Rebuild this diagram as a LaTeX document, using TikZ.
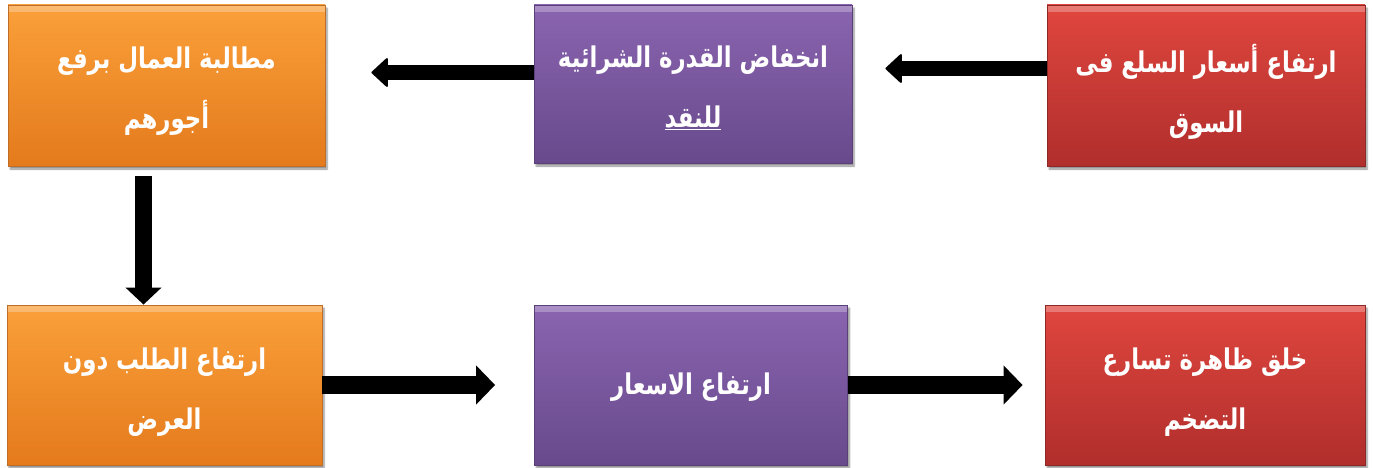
\documentclass[tikz,border=0pt]{standalone}
\usepackage{fontspec}
\newfontfamily\arabicfont[Script=Arabic,FakeStretch=0.8]{DejaVu Sans}
\TeXXeTstate=1
\usetikzlibrary{arrows.meta,shadows.blur}
\definecolor{redtop}{RGB}{224,70,62}
\definecolor{redbot}{RGB}{176,46,44}
\definecolor{redline}{RGB}{140,40,38}
\definecolor{ortop}{RGB}{250,160,58}
\definecolor{orbot}{RGB}{228,122,28}
\definecolor{orline}{RGB}{190,110,40}
\definecolor{putop}{RGB}{138,100,176}
\definecolor{pubot}{RGB}{104,74,140}
\definecolor{puline}{RGB}{90,64,120}
\tikzset{
  box/.style={rectangle, minimum width=#1, inner sep=0pt, line width=0.8pt,
    blur shadow={shadow xshift=2pt, shadow yshift=-3pt, shadow blur steps=6, shadow opacity=45},
    path picture={\fill[white,opacity=.28] (path picture bounding box.north west) rectangle ([yshift=-7pt]path picture bounding box.north east);}},
  redbox/.style={box=#1, top color=redtop, bottom color=redbot, draw=redline},
  orbox/.style={box=#1, top color=ortop, bottom color=orbot, draw=orline},
  pubox/.style={box=#1, top color=putop, bottom color=pubot, draw=puline},
  txt/.style={text=white, align=center, inner sep=0pt,
    font=\arabicfont\bfseries\fontsize{28.5}{60}\selectfont},
  thinarr/.style={line width=15pt, -{Triangle[length=17pt,width=31pt,line width=2pt,round]}},
  thickarr/.style={line width=18pt, -{Triangle[length=19pt,width=38pt]}},
}
\begin{document}
\begin{tikzpicture}[x=1pt,y=-1pt]
\useasboundingbox (0,0) rectangle (1373,468);
\node[redbox=318pt, minimum height=161pt] (tr) at (1206,85.5) {};
\node[pubox=318pt, minimum height=158pt] (tm) at (693,84) {};
\node[orbox=317pt, minimum height=161pt] (tl) at (166.5,85.5) {};
\node[orbox=315pt, minimum height=160pt] (bl) at (164.5,385) {};
\node[pubox=313pt, minimum height=160pt] (bm) at (691,385) {};
\node[redbox=320pt, minimum height=160pt] (br) at (1205,385) {};
\node[txt] (trt) at ([yshift=-6pt]tr.center) {\beginR ارتفاع أسعار السلع فى\endR\\\beginR السوق\endR};
\node[txt] (tmt) at ([yshift=-4pt]tm.center) {\beginR انخفاض القدرة الشرائية\endR\\\underline{\beginR للنقد\endR}};
\node[txt] (tlt) at ([yshift=-6pt]tl.center) {\beginR مطالبة العمال برفع\endR\\\beginR أجورهم\endR};
\node[txt] (blt) at ([yshift=-7pt]bl.center) {\beginR ارتفاع الطلب دون\endR\\\beginR العرض\endR};
\node[txt] (bmt) at ([yshift=-2pt]bm.center) {\beginR ارتفاع الاسعار\endR};
\node[txt] (brt) at ([yshift=-7pt]br.center) {\beginR خلق ظاهرة تسارع\endR\\\beginR التضخم\endR};
\draw[thinarr, shorten >=33pt] ([yshift=17pt]tr.west) -- ([yshift=17pt]tr.west -| tm.east);
\draw[thinarr, shorten >=46pt] ([yshift=11.5pt]tm.west) -- ([yshift=11.5pt]tm.west -| tl.east);
\draw[line width=17pt, -{Triangle[length=17pt,width=35pt]}, shorten <=10pt] ([xshift=-23pt]tl.south) -- ([xshift=-23pt]tl.south |- bl.north);
\draw[thickarr, shorten >=39pt] (bl.east) -- (bl.east -| bm.west);
\draw[thickarr, shorten >=22pt] (bm.east) -- (bm.east -| br.west);
\end{tikzpicture}
\end{document}
